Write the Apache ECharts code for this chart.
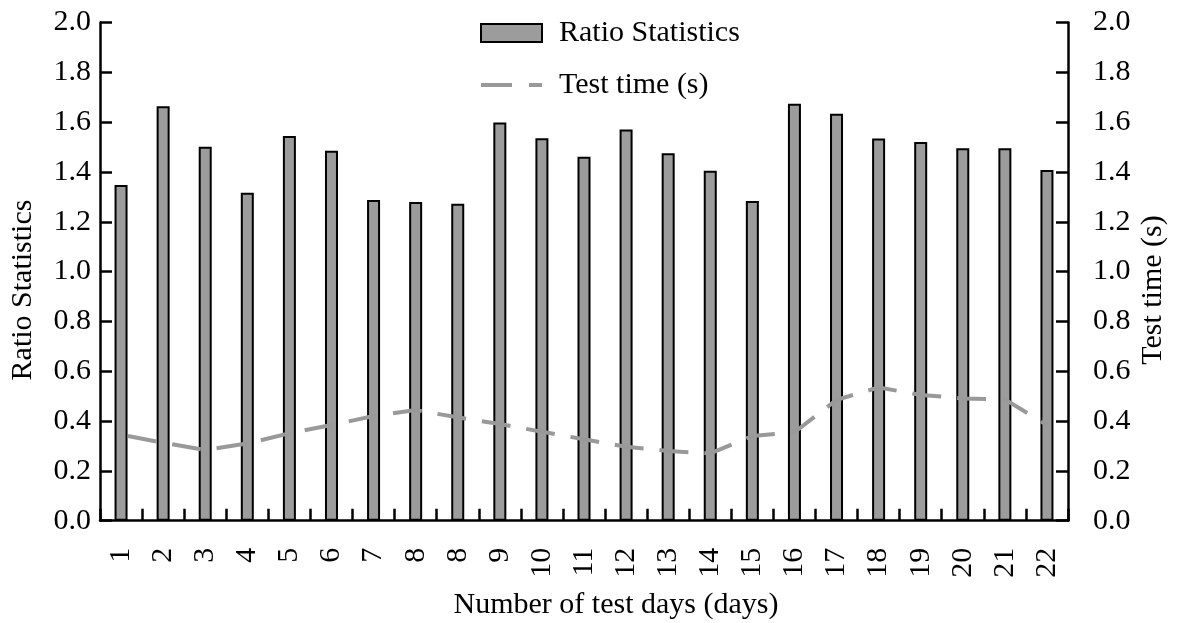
<!DOCTYPE html>
<html>
<head>
<meta charset="utf-8">
<script src="https://cdn.jsdelivr.net/npm/echarts@6/dist/echarts.min.js"></script>
<style>
  html, body { margin: 0; padding: 0; background: #fff; }
  #chart { width: 1179px; height: 623px; }
</style>
</head>
<body>
<div id="chart"></div>
<script>
// Test-day labels (day 8 was measured twice)
const days = ['1','2','3','4','5','6','7','8','8','9','10','11','12','13','14','15','16','17','18','19','20','21','22'];
// Ratio statistics per test
const ratioStats = [1.348,1.664,1.501,1.317,1.544,1.485,1.287,1.279,1.272,1.599,1.535,1.461,1.570,1.475,1.405,1.283,1.674,1.634,1.534,1.520,1.495,1.495,1.408];
// Test time in seconds per test
const testTime = [0.345,0.313,0.284,0.310,0.351,0.384,0.420,0.444,0.415,0.388,0.357,0.327,0.297,0.280,0.270,0.340,0.355,0.485,0.535,0.505,0.491,0.487,0.384];
// Shared value-axis ticks
const yMin = 0, yMax = 2, yStep = 0.2;

const FONT = "'Liberation Serif', 'Times New Roman', serif";
const FS = 30;
const chart = echarts.init(document.getElementById('chart'), null, { renderer: 'canvas' });

const axisLine = { show: true, lineStyle: { color: '#000', width: 2.5 } };
const axisTick = { show: true, inside: true, length: 12, lineStyle: { color: '#000', width: 2.5 } };

chart.setOption({
  backgroundColor: '#fff',
  animation: false,
  textStyle: { fontFamily: FONT, color: '#000' },
  grid: { left: 100, right: 111, top: 22.5, bottom: 102.3, containLabel: false },
  legend: {
    orient: 'vertical',
    left: 479,
    top: 18,
    padding: 0,
    itemWidth: 61,
    itemHeight: 18,
    itemGap: 22,
    textStyle: { fontFamily: FONT, fontSize: FS, color: '#000', padding: [0, 0, 0, 12] },
    data: [
      { name: 'Ratio Statistics', icon: 'rect' },
      {
        name: 'Test time (s)',
        itemStyle: { opacity: 0 },
        lineStyle: { width: 4, color: '#999999', type: [31, 17], dashOffset: 0 }
      }
    ]
  },
  xAxis: {
    type: 'category',
    data: days,
    boundaryGap: true,
    axisLine: axisLine,
    axisTick: axisTick,
    axisLabel: { rotate: 90, margin: 27, fontFamily: FONT, fontSize: FS, color: '#000', interval: 0 },
    splitLine: { show: false }
  },
  yAxis: [
    {
      type: 'value', min: yMin, max: yMax, interval: yStep,
      position: 'left',
      axisLine: axisLine, axisTick: axisTick,
      axisLabel: { margin: 9, fontFamily: FONT, fontSize: FS, color: '#000', formatter: v => v.toFixed(1) },
      splitLine: { show: false }
    },
    {
      type: 'value', min: yMin, max: yMax, interval: yStep,
      position: 'right',
      axisLine: axisLine, axisTick: axisTick,
      axisLabel: { margin: 25, fontFamily: FONT, fontSize: FS, color: '#000', formatter: v => v.toFixed(1) },
      splitLine: { show: false }
    }
  ],
  graphic: [
    { type: 'text', x: 23, y: 290, rotation: Math.PI / 2,
      style: { text: 'Ratio Statistics', font: FS + 'px ' + FONT, fill: '#000', align: 'center', verticalAlign: 'middle' } },
    { type: 'text', x: 1153, y: 290, rotation: Math.PI / 2,
      style: { text: 'Test time (s)', font: FS + 'px ' + FONT, fill: '#000', align: 'center', verticalAlign: 'middle' } },
    { type: 'text', x: 616, y: 605,
      style: { text: 'Number of test days (days)', font: FS + 'px ' + FONT, fill: '#000', align: 'center', verticalAlign: 'middle' } }
  ],
  series: [
    {
      name: 'Ratio Statistics',
      type: 'bar',
      yAxisIndex: 0,
      data: ratioStats,
      barWidth: 13,
      itemStyle: { color: '#9c9c9c', borderColor: '#000', borderWidth: 2 },
      z: 2
    },
    {
      name: 'Test time (s)',
      type: 'line',
      yAxisIndex: 1,
      data: testTime,
      symbol: 'circle',
      showSymbol: false,
      lineStyle: { color: '#999999', width: 4, type: [29, 16], dashOffset: 38 },
      itemStyle: { color: '#999999', opacity: 0 },
      z: 3
    }
  ]
});
</script>
</body>
</html>
